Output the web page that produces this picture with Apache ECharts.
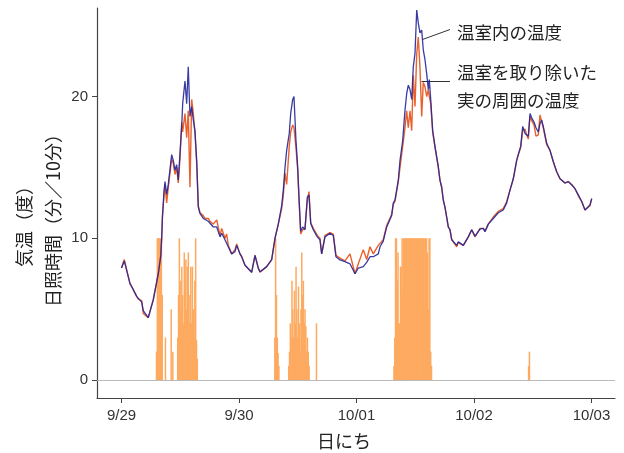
<!DOCTYPE html>
<html><head><meta charset="utf-8">
<script src="https://cdn.jsdelivr.net/npm/echarts@6/dist/echarts.min.js"></script>
<style>html,body{margin:0;padding:0;background:#fff}#c{width:624px;height:453px}</style>
</head><body><div id="c"></div>
<script>
// x in hours since 9/29 00:00
const tickHours = [0, 24, 48, 72, 96];
const tickLabels = ['9/29', '9/30', '10/01', '10/02', '10/03'];
const yTicks = [0, 10, 20];

const hours = [0,0.57,1.74,2.08,3.10,3.43,4.13,4.45,5.47,6.50,7.52,8.01,8.21,8.37,8.68,8.89,9.23,9.56,10.25,10.58,10.93,11.27,11.60,11.95,12.30,12.50,12.97,13.32,13.64,13.99,14.34,14.67,15.01,15.36,15.69,16.03,16.71,17.06,17.73,18.08,18.75,19.45,20.13,20.47,21.14,21.49,21.81,22.51,23.18,23.53,24.20,24.55,25.23,25.57,26.59,27.27,27.94,28.29,28.64,29.66,30.68,31.35,32.03,32.72,33.05,33.40,33.74,34.27,34.56,34.97,35.23,35.64,35.99,36.26,36.60,37.01,37.48,37.95,38.30,38.65,39.18,39.99,40.54,40.89,41.57,42.59,43.26,43.81,44.63,45.65,46.67,47.70,48.37,49.39,50.08,50.76,51.43,52.45,52.80,53.47,54.17,55.19,55.52,55.86,56.54,56.89,57.44,57.91,58.25,58.58,58.93,59.28,59.60,59.95,60.30,60.62,60.97,61.32,61.64,61.99,62.34,62.67,62.87,63.16,63.56,64.03,64.71,65.05,65.40,65.73,66.07,66.42,66.75,67.10,67.45,67.77,68.47,68.79,69.82,70.84,71.53,72.21,73.23,73.90,74.25,74.92,75.94,76.96,77.98,78.68,79.35,80.03,80.72,81.05,81.54,81.95,82.42,82.76,83.09,83.44,83.78,84.26,84.66,85.13,85.48,85.83,86.15,86.85,87.52,88.20,88.89,89.57,90.59,91.27,91.96,92.63,93.31,94.00,94.67,95.02,95.69,96.04];

const insideTemp = [7.9,8.4,6.8,6.6,5.9,5.8,5.5,4.9,4.4,5.65,7.5,8.7,10.0,11.5,13.3,14.0,13.1,13.8,15.9,15.5,14.8,15.2,14.1,16.0,17.9,19.5,21.1,19.5,22.1,18.6,19.3,18.35,17.6,15.5,12.2,11.76,11.4,11.4,11.2,11.3,10.8,10.8,10.1,10.35,9.9,10.0,9.4,8.9,9.05,9.5,8.9,8.7,8.1,8.1,7.6,8.8,7.9,7.64,7.5,8.0,8.5,10.0,11.0,12.3,13.4,15.0,16.2,17.4,18.8,19.8,20.0,16.9,15.05,12.9,10.5,10.8,10.6,12.9,13.06,11.05,10.6,10.1,9.9,8.9,10.1,10.35,10.2,8.7,8.47,8.35,8.2,7.5,7.9,8.0,8.3,8.7,8.7,8.9,9.4,9.8,10.8,11.6,12.5,12.7,14.1,15.5,16.9,19.05,20.2,20.8,20.5,19.8,22.1,23.05,26.1,25.2,24.5,24.7,23.3,22.6,21.6,20.5,21.2,19.8,17.6,16.5,15.05,14.1,13.6,12.7,12.2,11.5,10.8,10.6,9.9,9.9,9.5,9.76,9.5,10.1,10.6,10.15,10.65,10.7,10.47,11.0,11.4,11.8,12.0,12.5,13.4,14.2,15.5,15.9,16.5,17.9,17.4,17.5,17.2,18.8,18.5,18.2,17.8,17.5,18.1,18.35,17.9,16.7,16.2,15.4,14.7,14.2,13.9,14.0,13.76,13.5,13.06,12.6,12.0,11.9,12.35,12.8];

const fruitTemp = [7.9,8.5,6.8,6.6,5.9,5.7,5.6,4.7,4.4,5.7,7.5,8.8,10.0,11.6,13.0,13.8,12.5,13.6,15.6,15.3,14.5,15.0,13.9,15.6,18.2,17.5,18.8,17.1,19.0,13.6,19.8,18.8,17.4,15.3,12.3,11.8,11.6,11.4,11.4,11.2,11.0,11.3,10.2,10.7,10.0,10.3,9.5,8.9,9.2,9.6,8.9,8.7,8.1,8.1,7.6,8.8,7.9,7.6,7.5,8.0,8.5,10.0,11.0,12.1,13.0,14.6,13.8,16.5,17.5,18.0,17.8,16.4,14.8,12.7,10.3,10.6,10.7,12.6,13.3,11.1,10.7,10.2,10.0,8.9,10.2,10.4,10.3,8.8,8.6,8.4,8.9,7.5,8.2,9.2,8.5,9.4,8.9,9.5,9.5,9.9,10.9,11.7,12.4,12.6,14.0,15.0,16.5,17.8,19.0,17.8,19.0,17.6,21.5,19.3,23.0,24.2,22.0,18.6,21.0,20.7,20.0,20.5,20.0,19.5,17.5,16.4,15.0,14.1,13.6,12.7,12.2,11.5,10.8,10.6,9.9,9.8,9.4,9.7,9.5,10.1,10.6,10.1,10.7,10.7,10.5,11.0,11.5,11.9,12.1,12.6,13.4,14.2,15.5,15.9,16.4,17.6,17.7,17.3,17.0,18.6,18.3,18.0,17.2,17.3,18.7,18.2,17.8,16.6,16.2,15.4,14.7,14.2,13.9,14.0,13.8,13.5,13.0,12.6,12.0,11.9,12.3,12.8];

// sunshine (minutes per 10 minutes), slot start in hours since 9/29 00:00
const sunHours = [7.0,7.17,7.33,7.5,7.67,7.83,8.0,8.17,8.83,10.0,10.33,
 11.33,11.5,11.67,11.83,12.0,12.17,12.33,12.5,12.67,12.83,13.0,13.17,13.33,13.5,13.67,13.83,14.0,14.17,14.33,14.5,14.67,14.83,15.0,15.17,15.33,
 31.17,31.33,31.5,31.67,31.83,32.0,
 34.0,34.17,34.33,34.5,34.67,34.83,35.0,35.17,35.33,35.5,35.67,35.83,36.0,36.17,36.33,36.5,36.67,36.83,37.0,37.17,37.33,37.5,37.67,37.83,38.0,38.17,39.67,
 55.5,55.67,55.83,56.0,56.17,56.33,56.5,56.67,56.83,57.0,57.17,57.33,57.5,57.67,57.83,58.0,58.17,58.33,58.5,58.67,58.83,59.0,59.17,59.33,59.5,59.67,59.83,60.0,60.17,60.33,60.5,60.67,60.83,61.0,61.17,61.33,61.5,61.67,61.83,62.0,62.17,62.33,62.5,62.67,62.83,63.0,63.17,
 83.0,83.17];
const sunMinutes = [2,10,10,10,10,10,10,6,3,5,2,
 3,6,10,7,5,8,6,4,9,7,8.5,5,8,9,4,6,8,4,8,5,3,7,10,2.8,1.5,
 3,10,6,3,1.9,1,
 1,2,4,3,7,5,3,6.3,4,8,5,3,6.6,4,2,5,9,6,7,4,5,3.8,2,3,2,1,4,
 1,3,10,10,7,9,4,4,8,8,10,6,10,10,10,10,10,10,10,10,10,10,10,10,10,10,10,10,10,10,10,10,10,10,10,10,10,10,10,10,10,9,5,10,10,2,1,
 1,2];
const slotHours = 1 / 6;

const jp = '"Noto Sans CJK JP", sans-serif';
const num = '"Liberation Sans", Arial, sans-serif';
const chart = echarts.init(document.getElementById('c'));
chart.setOption({
  animation: false,
  backgroundColor: '#fff',
  grid: { left: 97, top: 8, width: 518, height: 390 },
  xAxis: {
    type: 'value', min: -5.0, max: 100.8,
    splitLine: { show: false },
    axisLine: { show: true, onZero: false, lineStyle: { color: '#444', width: 1.2 } },
    axisTick: { show: true, customValues: tickHours, length: 5, lineStyle: { color: '#444' } },
    axisLabel: { customValues: tickHours, margin: 10, fontSize: 15, fontFamily: num, color: '#333',
      formatter: v => tickLabels[tickHours.indexOf(v)] }
  },
  yAxis: {
    type: 'value', min: -1.27, max: 26.25,
    splitLine: { show: false },
    axisLine: { show: true, onZero: false, lineStyle: { color: '#444', width: 1.2 } },
    axisTick: { show: true, customValues: yTicks, length: 5, lineStyle: { color: '#444' } },
    axisLabel: { customValues: yTicks, margin: 9, fontSize: 15, fontFamily: num, color: '#333' }
  },
  series: [
    {
      type: 'custom', name: '日照時間',
      data: sunHours.map((h, i) => [h, sunMinutes[i]]),
      encode: { x: 0, y: 1 },
      renderItem: function (params, api) {
        const p0 = api.coord([api.value(0), api.value(1)]);
        const p1 = api.coord([api.value(0) + slotHours, 0]);
        return { type: 'rect',
          shape: { x: p0[0], y: p0[1], width: p1[0] - p0[0] + 0.7, height: p1[1] - p0[1] },
          style: { fill: '#fdaa60' } };
      }
    },
    {
      type: 'line', name: '温室を取り除いた実の周囲の温度', showSymbol: false,
      lineStyle: { color: '#e8612c', width: 1.4 },
      data: hours.map((h, i) => [h, fruitTemp[i]]),
      markLine: { silent: true, symbol: 'none', label: { show: false }, z: 1,
        lineStyle: { color: '#bbbbbb', width: 1, type: 'solid' }, data: [{ yAxis: 0 }] }
    },
    {
      type: 'line', name: '温室内の温度', showSymbol: false,
      lineStyle: { color: '#25259a', width: 1.3, opacity: 0.9 },
      data: hours.map((h, i) => [h, insideTemp[i]])
    }
  ],
  graphic: [
    { type: 'text', x: 24, y: 222, rotation: Math.PI / 2,
      style: { text: '気温（度）', font: '18px ' + jp, fill: '#222', textAlign: 'center', textVerticalAlign: 'middle' } },
    { type: 'text', x: 53, y: 216, rotation: Math.PI / 2,
      style: { text: '日照時間（分／10分）', font: '18px ' + jp, fill: '#222', textAlign: 'center', textVerticalAlign: 'middle' } },
    { type: 'text', x: 344, y: 441,
      style: { text: '日にち', font: '18px ' + jp, fill: '#222', textAlign: 'center', textVerticalAlign: 'middle' } },
    { type: 'text', x: 457, y: 32,
      style: { text: '温室内の温度', font: '17.5px ' + jp, fill: '#222', textAlign: 'left', textVerticalAlign: 'middle' } },
    { type: 'text', x: 457, y: 72,
      style: { text: '温室を取り除いた', font: '17.5px ' + jp, fill: '#222', textAlign: 'left', textVerticalAlign: 'middle' } },
    { type: 'text', x: 457, y: 100,
      style: { text: '実の周囲の温度', font: '17.5px ' + jp, fill: '#222', textAlign: 'left', textVerticalAlign: 'middle' } },
    { type: 'line', shape: { x1: 422.5, y1: 39.5, x2: 450, y2: 29.5 }, style: { stroke: '#333', lineWidth: 1 } },
    { type: 'line', shape: { x1: 421.5, y1: 81.5, x2: 450, y2: 81.5 }, style: { stroke: '#333', lineWidth: 1 } }
  ]
});
</script>
</body></html>
